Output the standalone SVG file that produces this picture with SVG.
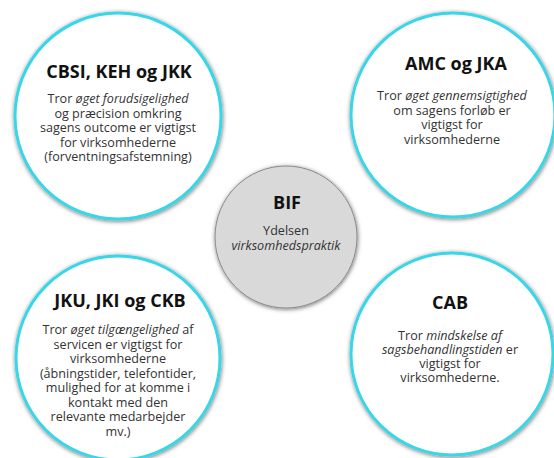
<svg xmlns="http://www.w3.org/2000/svg" width="554" height="458" viewBox="0 0 554 458">
<defs>
<filter id="sh" x="-20%" y="-20%" width="140%" height="140%">
<feDropShadow dx="0.5" dy="1" stdDeviation="2.2" flood-color="#000" flood-opacity="0.55"/>
</filter>
<style>
.outer{fill:#fff;stroke:#38d6e6;stroke-width:3;filter:url(#sh)}
.hub{fill:#d9d9d9;stroke:#8a8a8a;stroke-width:1;filter:url(#sh)}
.t{font-family:"Open Sans","Liberation Sans",sans-serif;font-weight:bold;font-size:18px;fill:#111;text-anchor:middle}
.b{font-family:"Open Sans","Liberation Sans",sans-serif;font-size:12.6px;fill:#333;text-anchor:middle}
.i{font-style:italic}
</style>
</defs>
<g id="connectors"></g>
<g id="node-cbsi">
<circle class="outer" cx="118" cy="116" r="103"/>
<text class="t" x="119" y="78">CBSI, KEH og JKK</text>
<text class="b" x="118" y="103">Tror <tspan class="i">øget forudsigelighed</tspan></text>
<text class="b" x="118" y="117.5">og præcision omkring</text>
<text class="b" x="118" y="132">sagens outcome er vigtigst</text>
<text class="b" x="118" y="146.5">for virksomhederne</text>
<text class="b" x="118" y="161">(forventningsafstemning)</text>
</g>
<g id="node-amc">
<circle class="outer" cx="453" cy="115" r="102"/>
<text class="t" x="456" y="70">AMC og JKA</text>
<text class="b" x="452" y="100">Tror <tspan class="i">øget gennemsigtighed</tspan></text>
<text class="b" x="452" y="114.5">om sagens forløb er</text>
<text class="b" x="452" y="129">vigtigst for</text>
<text class="b" x="452" y="143.5">virksomhederne</text>
</g>
<g id="node-jku">
<circle class="outer" cx="118" cy="358" r="102"/>
<text class="t" x="120" y="307">JKU, JKI og CKB</text>
<text class="b" x="118" y="334">Tror <tspan class="i">øget tilgængelighed</tspan> af</text>
<text class="b" x="118" y="348.5">servicen er vigtigst for</text>
<text class="b" x="118" y="363">virksomhederne</text>
<text class="b" x="118" y="377.5">(åbningstider, telefontider,</text>
<text class="b" x="118" y="392">mulighed for at komme i</text>
<text class="b" x="118" y="406.5">kontakt med den</text>
<text class="b" x="118" y="421">relevante medarbejder</text>
<text class="b" x="118" y="435.5">mv.)</text>
</g>
<g id="node-cab">
<circle class="outer" cx="452" cy="354" r="101"/>
<text class="t" x="450" y="309">CAB</text>
<text class="b" x="450" y="340">Tror <tspan class="i">mindskelse af</tspan></text>
<text class="b" x="450" y="354"><tspan class="i">sagsbehandlingstiden</tspan> er</text>
<text class="b" x="450" y="368">vigtigst for</text>
<text class="b" x="450" y="382">virksomhederne.</text>
</g>
<g id="node-bif">
<circle class="hub" cx="286" cy="237" r="71"/>
<text class="t" x="287" y="209">BIF</text>
<text class="b" x="286" y="235">Ydelsen</text>
<text class="b i" x="286" y="250">virksomhedspraktik</text>
</g>
</svg>
